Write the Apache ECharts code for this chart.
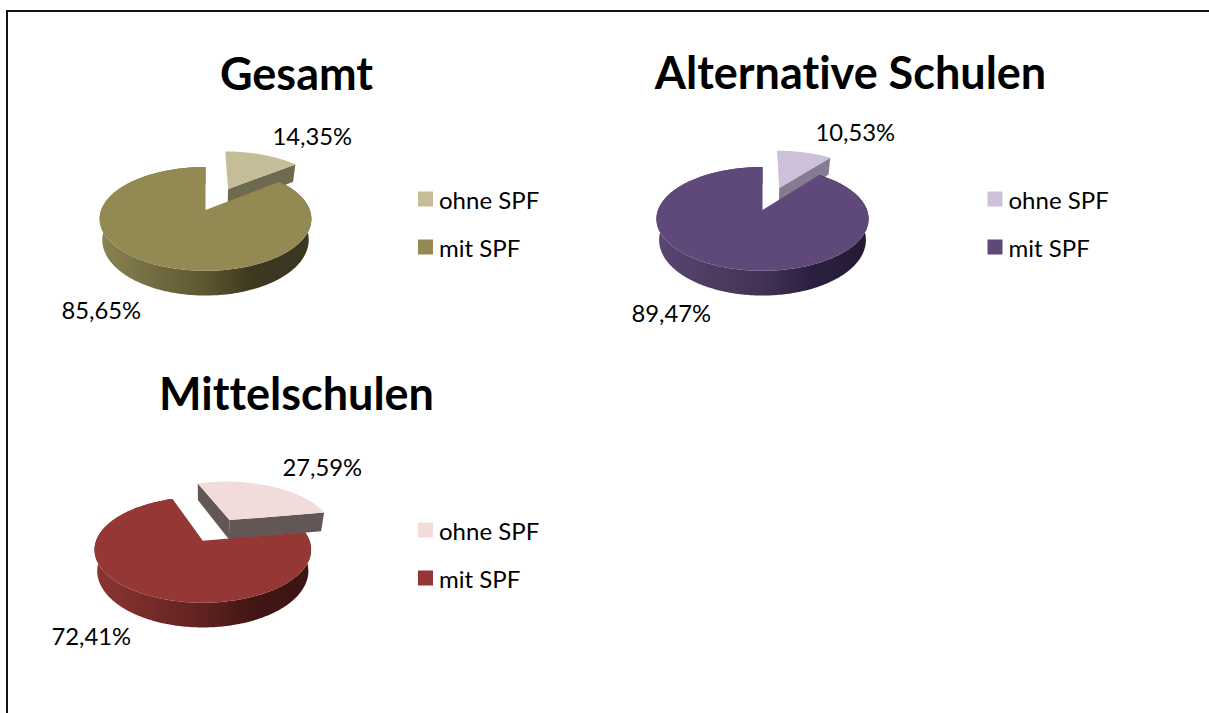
<!DOCTYPE html>
<html>
<head>
<meta charset="utf-8">
<style>html,body{margin:0;padding:0;background:#fff}#c{width:1209px;height:713px}
#c text{font-variant-ligatures:none !important}</style>
<script src="https://cdn.jsdelivr.net/npm/echarts@6/dist/echarts.min.js"></script>
</head>
<body>
<div id="c"></div>
<script>
// ---- data ----
const categories = ['ohne SPF', 'mit SPF'];
const chartTitles = ['Gesamt', 'Alternative Schulen', 'Mittelschulen'];
const gesamtValues = [14.35, 85.65];
const alternativeValues = [10.53, 89.47];
const mittelschulenValues = [27.59, 72.41];

// ---- layout and styles ----
const FONT = 'Lato, Carlito, Calibri, sans-serif';
const TITLE_SIZE = 45, LABEL_SIZE = 23.8, LEGEND_SIZE = 24;
const pies = [
  { values: gesamtValues, vx: 205.5, vy: 210, R: 104.3, s: 50.4, start: 0, sliceDx: 1.5,
    titleX: 296.5, titleY: 50, legendX: 418, legendY: 187,
    labels: [[272.5, 136], [61.5, 310]],
    light: '#c4bd97', main: '#938953', cut: '#6e6a50',
    side: ['#8a8352', '#5d5630', '#3e3820', '#3a3620'] },
  { values: alternativeValues, vx: 762.5, vy: 210, R: 104.5, s: 50.4, start: 0, sliceDx: 1,
    titleX: 850.5, titleY: 49, legendX: 987.5, legendY: 187,
    labels: [[815.5, 132], [631.5, 313]],
    light: '#ccc1d9', main: '#5f497a', cut: '#857c91',
    side: ['#5a4672', '#433254', '#2c2040', '#241a32'] },
  { values: mittelschulenValues, vx: 202.8, vy: 540.7, R: 106.7, s: 51.4, start: -19.2, sliceDx: 1.5,
    titleX: 296.5, titleY: 370, legendX: 418, legendY: 518,
    labels: [[282.5, 467], [51.5, 636]],
    light: '#f2dcdb', main: '#953735', cut: '#635755',
    side: ['#8c3533', '#5f2220', '#431614', '#3c1412'] }
];
const K = 0.171, DEPTH = 20.5, SHRINK = 0.975, EXPLODE = 0.5;

function project(p, u, v, dx) {
  const d = 1 + K * v;
  return [p.vx + (dx || 0) + p.R * u / d, p.vy - p.s * v / d, d];
}
function lower(p, pt) {
  return [p.vx + (pt[0] - p.vx) * SHRINK, pt[1] + DEPTH / pt[2]];
}
function arc(p, a0, a1, ox, oy, dx) {
  const pts = [];
  const n = Math.max(2, Math.ceil(Math.abs(a1 - a0)));
  for (let i = 0; i <= n; i++) {
    const a = (a0 + (a1 - a0) * i / n) * Math.PI / 180;
    pts.push(project(p, ox + Math.sin(a), oy + Math.cos(a), dx));
  }
  return pts;
}
function xy(pts) { return pts.map(q => [q[0], q[1]]); }
function poly(points, fill) {
  return { type: 'polygon', shape: { points: points }, style: { fill: fill }, silent: true };
}
function fmt(v) { return v.toFixed(2).replace('.', ',') + '%'; }
function label(p, i) {
  return { type: 'text', silent: true,
    style: { text: fmt(p.values[i]), x: p.labels[i][0], y: p.labels[i][1], fill: '#000',
      font: LABEL_SIZE + 'px ' + FONT, align: 'left', verticalAlign: 'middle' } };
}
function drawSlice(p, i) {
  const total = p.values[0] + p.values[1];
  const sweep0 = p.values[0] / total * 360;
  const children = [];
  if (i === 0) {
    const a0 = p.start, a1 = p.start + sweep0, mid = (a0 + a1) / 2 * Math.PI / 180;
    const ox = EXPLODE * Math.sin(mid), oy = EXPLODE * Math.cos(mid);
    const rim = arc(p, a0, a1, ox, oy, p.sliceDx);
    const apex = project(p, ox, oy, p.sliceDx);
    const rimLow = rim.map(q => lower(p, q));
    const apexLow = lower(p, apex);
    const first = rim[0], last = rim[rim.length - 1];
    if (a0 < -1) {
      children.push(poly([[first[0], first[1]], [apex[0], apex[1]], apexLow, rimLow[0]], p.cut));
    }
    children.push(poly([[apex[0], apex[1]], [last[0], last[1]], rimLow[rimLow.length - 1], apexLow], p.cut));
    children.push(poly([[apex[0], apex[1]]].concat(xy(rim)), p.light));
  } else {
    const a0 = p.start + sweep0, a1 = p.start + 360;
    const rim = arc(p, a0, a1, 0, 0);
    const rimLow = rim.map(q => lower(p, q));
    const x0 = p.vx - p.R * 1.02, x1 = p.vx + p.R * 1.02;
    const grad = new echarts.graphic.LinearGradient(x0, 0, x1, 0, [
      { offset: 0, color: p.side[0] }, { offset: 0.5, color: p.side[1] },
      { offset: 0.72, color: p.side[2] }, { offset: 1, color: p.side[3] }
    ], true);
    children.push(poly(xy(rim).concat(rimLow.slice().reverse()), grad));
    children.push(poly([[p.vx, p.vy]].concat(xy(rim)), p.main));
  }
  children.push(label(p, i));
  return { type: 'group', children: children };
}

const series = [];
const titles = [];
const legends = [];
pies.forEach(function (p, idx) {
  titles.push({ text: chartTitles[idx], left: p.titleX, top: p.titleY, textAlign: 'center',
    textStyle: { fontFamily: FONT, fontWeight: 'bold', fontSize: TITLE_SIZE, color: '#000' }, padding: 0 });
  legends.push({ orient: 'vertical', left: p.legendX, top: p.legendY, padding: 0,
    itemWidth: 15, itemHeight: 15, itemGap: 24, selectedMode: false,
    textStyle: { fontFamily: FONT, fontSize: LEGEND_SIZE, lineHeight: 15, color: '#000', padding: [0, 0, 0, 1] },
    data: categories.map((c, i) => ({ name: c, icon: 'rect',
      itemStyle: { color: i === 0 ? p.light : p.main } })) });
  [0, 1].forEach(function (i) {
    series.push({ type: 'custom', name: categories[i], coordinateSystem: 'none', silent: true,
      animation: false, z: 2 + idx,
      data: [[p.values[i]]],
      itemStyle: { color: i === 0 ? p.light : p.main },
      renderItem: function () { return drawSlice(p, i); } });
  });
});

const chart = echarts.init(document.getElementById('c'), null, { renderer: 'svg' });
chart.setOption({
  backgroundColor: '#fff',
  animation: false,
  title: titles,
  legend: legends,
  series: series,
  graphic: [
    { type: 'line', shape: { x1: 7, y1: 11, x2: 7, y2: 713 }, style: { stroke: '#111', lineWidth: 2 }, silent: true },
    { type: 'line', shape: { x1: 6, y1: 11, x2: 1209, y2: 11 }, style: { stroke: '#111', lineWidth: 2 }, silent: true }
  ]
});
</script>
</body>
</html>
